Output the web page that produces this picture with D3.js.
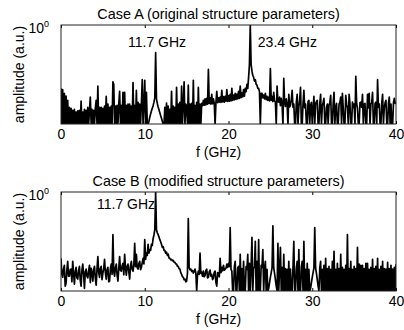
<!DOCTYPE html>
<html>
<head>
<meta charset="utf-8">
<script src="https://cdn.jsdelivr.net/npm/d3@7"></script>
<style>
  body { margin: 0; background: #fff; }
  text { font-family: "Liberation Sans", Arial, Helvetica, sans-serif; fill: #000; }
</style>
</head>
<body>
<svg id="chart" width="404" height="330"></svg>
<script>
// frequency grid of the spectra (GHz)
var fStart = 0, fStep = 0.1;

// amplitude (a.u.), one row per GHz (x.0 ... x.9)
// values below 1e-3 are dips that fall under the axis
var ampA = [
  0.012, 0.0005, 0.011, 0.0005, 0.0085, 0.0005, 0.007, 0.0005, 0.0052, 0.0005,
  0.0032, 0.0005, 0.003, 0.0005, 0.0026, 0.0005, 0.0028, 0.0005, 0.0023, 0.0005,
  0.0025, 0.0005, 0.0026, 0.0005, 0.0049, 0.0005, 0.0023, 0.0005, 0.0028, 0.0005,
  0.0026, 0.0005, 0.0032, 0.0005, 0.0025, 0.0065, 0.0005, 0.0028, 0.0005, 0.0026,
  0.0005, 0.003, 0.0052, 0.0005, 0.014, 0.0005, 0.0032, 0.0005, 0.0032, 0.0005,
  0.003, 0.0005, 0.0035, 0.0005, 0.0069, 0.0005, 0.004, 0.0005, 0.0032, 0.0005,
  0.0035, 0.0005, 0.019, 0.016, 0.0005, 0.0035, 0.0005, 0.0037, 0.0005, 0.004,
  0.0098, 0.0005, 0.0037, 0.0005, 0.0091, 0.0005, 0.0091, 0.0005, 0.0037, 0.0005,
  0.004, 0.0005, 0.004, 0.0005, 0.0035, 0.0005, 0.018, 0.0005, 0.0037, 0.0005,
  0.0105, 0.0005, 0.0045, 0.0005, 0.004, 0.0005, 0.0042, 0.022, 0.0005, 0.004,
  0.021, 0.0005, 0.0091, 0.0005, 0.0009, 0.0012, 0.0016, 0.002, 0.0025, 0.003,
  0.0036, 0.0046, 0.0062, 0.145, 0.0058, 0.0042, 0.0033, 0.0027, 0.0022, 0.0018,
  0.0015, 0.0012, 0.001, 0.0005, 0.0032, 0.0005, 0.0043, 0.0005, 0.0035, 0.0005,
  0.0028, 0.0005, 0.0098, 0.0005, 0.0035, 0.0005, 0.0032, 0.0005, 0.013, 0.0005,
  0.004, 0.0005, 0.0045, 0.0005, 0.014, 0.0005, 0.0037, 0.019, 0.0005, 0.004,
  0.0035, 0.0005, 0.015, 0.0005, 0.004, 0.0005, 0.0042, 0.0005, 0.021, 0.0005,
  0.0037, 0.0005, 0.0045, 0.0005, 0.013, 0.0005, 0.004, 0.0005, 0.0042, 0.0036,
  0.0052, 0.0037, 0.0058, 0.0038, 0.006, 0.004, 0.045, 0.0042, 0.0062, 0.004,
  0.0079, 0.0041, 0.0058, 0.0042, 0.0005, 0.0045, 0.0098, 0.0044, 0.0062, 0.0046,
  0.0065, 0.0045, 0.0105, 0.0047, 0.0068, 0.0046, 0.0069, 0.0049, 0.011, 0.0048,
  0.0072, 0.0049, 0.0079, 0.005, 0.012, 0.0052, 0.0075, 0.0054, 0.0085, 0.0056,
  0.008, 0.0058, 0.0098, 0.006, 0.014, 0.0063, 0.0088, 0.0066, 0.011, 0.007,
  0.012, 0.0095, 0.016, 0.012, 0.026, 0.063, 1, 0.063, 0.04, 0.03,
  0.026, 0.02, 0.022, 0.016, 0.015, 0.012, 0.012, 0.0095, 0.0005, 0.0085,
  0.0085, 0.0062, 0.0075, 0.0058, 0.0085, 0.0055, 0.0069, 0.0052, 0.0065, 0.005,
  0.048, 0.0052, 0.0068, 0.0048, 0.0091, 0.005, 0.0046, 0.0005, 0.014, 0.0048,
  0.0046, 0.0065, 0.0036, 0.006, 0.004, 0.0005, 0.024, 0.0045, 0.0034, 0.0058,
  0.004, 0.0005, 0.0079, 0.0033, 0.0037, 0.0055, 0.0105, 0.0032, 0.004, 0.0005,
  0.0005, 0.0045, 0.0079, 0.0005, 0.0033, 0.0055, 0.013, 0.0005, 0.0005, 0.0042,
  0.0105, 0.0031, 0.004, 0.0005, 0.0005, 0.0048, 0.0052, 0.0005, 0.0037, 0.0045,
  0.0005, 0.003, 0.0069, 0.0005, 0.004, 0.0048, 0.0052, 0.0005, 0.0005, 0.0042,
  0.0079, 0.0005, 0.0035, 0.0045, 0.006, 0.0005, 0.0005, 0.0032, 0.004, 0.0005,
  0.0037, 0.0045, 0.0074, 0.0005, 0.0005, 0.0042, 0.0091, 0.0005, 0.0031, 0.0042,
  0.0005, 0.0005, 0.004, 0.0045, 0.0065, 0.0005, 0.0085, 0.003, 0.0005, 0.0005,
  0.0074, 0.004, 0.0031, 0.0005, 0.0079, 0.0042, 0.0005, 0.0005, 0.0046, 0.0032,
  0.004, 0.0005, 0.028, 0.0042, 0.003, 0.0005, 0.0005, 0.0044, 0.0046, 0.0032,
  0.0079, 0.0005, 0.004, 0.0042, 0.0005, 0.0005, 0.0079, 0.0031, 0.0085, 0.0005,
  0.004, 0.0044, 0.0091, 0.0005, 0.0005, 0.0042, 0.0046, 0.0005, 0.022, 0.0032,
  0.004, 0.0005, 0.0005, 0.0043, 0.0079, 0.0005, 0.0031, 0.0044, 0.0052, 0.0005,
  0.0005, 0.0042, 0.0065, 0.0005, 0.004, 0.0005, 0.0005, 0.0045, 0.006, 0.0042,
  0.0046
];

var ampB = [
  0.0098, 0.0032, 0.0026, 0.0045, 0.006, 0.0014, 0.0017, 0.0042, 0.0079, 0.0028,
  0.0028, 0.0045, 0.0046, 0.0019, 0.0079, 0.0035, 0.0016, 0.0038, 0.0052, 0.0025,
  0.0023, 0.0042, 0.0056, 0.0021, 0.0014, 0.0044, 0.0065, 0.0032, 0.0012, 0.0038,
  0.0046, 0.0028, 0.0025, 0.0041, 0.006, 0.0018, 0.0049, 0.0036, 0.002, 0.0045,
  0.0056, 0.0024, 0.0015, 0.0046, 0.011, 0.0037, 0.0026, 0.0048, 0.0056, 0.0022,
  0.0035, 0.0047, 0.0091, 0.0036, 0.0023, 0.0045, 0.0052, 0.0019, 0.002, 0.0048,
  0.0065, 0.0032, 0.051, 0.0039, 0.0028, 0.0052, 0.0065, 0.003, 0.002, 0.0049,
  0.011, 0.0042, 0.004, 0.0058, 0.0069, 0.0031, 0.013, 0.0052, 0.003, 0.0055,
  0.0065, 0.0038, 0.0023, 0.0058, 0.0079, 0.0045, 0.004, 0.0062, 0.028, 0.0055,
  0.013, 0.0051, 0.0046, 0.0068, 0.0079, 0.0044, 0.0052, 0.0072, 0.0098, 0.0066,
  0.036, 0.009, 0.014, 0.012, 0.026, 0.014, 0.018, 0.017, 0.026, 0.024,
  0.039, 0.05, 0.072, 1, 0.072, 0.058, 0.051, 0.043, 0.036, 0.031,
  0.026, 0.021, 0.022, 0.017, 0.017, 0.014, 0.015, 0.012, 0.013, 0.01,
  0.0098, 0.0088, 0.0091, 0.0082, 0.0085, 0.0075, 0.0074, 0.0066, 0.0065, 0.0056,
  0.0056, 0.0047, 0.0046, 0.0036, 0.0032, 0.0027, 0.0026, 0.0022, 0.0023, 0.0019,
  0.002, 0.0035, 0.155, 0.0052, 0.0044, 0.0046, 0.0039, 0.0042, 0.0035, 0.0039,
  0.0046, 0.0035, 0.0005, 0.003, 0.004, 0.0032, 0.014, 0.0034, 0.0037, 0.0028,
  0.004, 0.0027, 0.003, 0.0042, 0.0046, 0.0025, 0.0026, 0.0038, 0.0043, 0.0028,
  0.0032, 0.0022, 0.0025, 0.0037, 0.004, 0.0018, 0.0014, 0.0036, 0.0035, 0.0027,
  0.0098, 0.0036, 0.0052, 0.0041, 0.006, 0.0043, 0.0046, 0.0049, 0.0065, 0.0052,
  0.0069, 0.0055, 0.083, 0.0045, 0.004, 0.0005, 0.0005, 0.0055, 0.0079, 0.0005,
  0.0005, 0.005, 0.0056, 0.0005, 0.013, 0.0005, 0.0048, 0.0005, 0.0079, 0.0005,
  0.0005, 0.0055, 0.0045, 0.013, 0.0005, 0.0069, 0.0005, 0.0052, 0.042, 0.0005,
  0.0048, 0.0055, 0.032, 0.0005, 0.0079, 0.0005, 0.036, 0.0005, 0.0005, 0.006,
  0.0052, 0.018, 0.0005, 0.0048, 0.0079, 0.0005, 0.0045, 0.0005, 0.0012, 0.0018,
  0.0026, 0.0036, 0.005, 0.095, 0.005, 0.0034, 0.0022, 0.0014, 0.0005, 0.028,
  0.0005, 0.0045, 0.021, 0.0005, 0.0052, 0.0005, 0.013, 0.0005, 0.0048, 0.0005,
  0.0045, 0.0005, 0.0079, 0.0005, 0.0046, 0.0005, 0.0005, 0.0052, 0.032, 0.0005,
  0.0005, 0.0048, 0.0079, 0.0005, 0.018, 0.0005, 0.0005, 0.0055, 0.0079, 0.0005,
  0.032, 0.0005, 0.0045, 0.0005, 0.0069, 0.0005, 0.0045, 0.0005, 0.0012, 0.0018,
  0.0026, 0.0036, 0.005, 0.083, 0.005, 0.0034, 0.0022, 0.0014, 0.0005, 0.005,
  0.0079, 0.0005, 0.0045, 0.0005, 0.006, 0.0005, 0.0098, 0.0005, 0.0048, 0.0005,
  0.0056, 0.0005, 0.0045, 0.0005, 0.0079, 0.0005, 0.016, 0.0005, 0.0045, 0.0005,
  0.0069, 0.0005, 0.0048, 0.0005, 0.013, 0.0005, 0.0052, 0.0005, 0.0045, 0.0005,
  0.006, 0.0005, 0.051, 0.0005, 0.0048, 0.0005, 0.0079, 0.0005, 0.0045, 0.0005,
  0.0056, 0.0005, 0.0048, 0.0005, 0.021, 0.0005, 0.0065, 0.0005, 0.006, 0.0005,
  0.006, 0.0005, 0.0048, 0.0005, 0.0069, 0.0005, 0.0069, 0.0005, 0.0045, 0.0005,
  0.0052, 0.0005, 0.0091, 0.0005, 0.0048, 0.0005, 0.0056, 0.0005, 0.0098, 0.0005,
  0.0045, 0.0005, 0.0056, 0.0005, 0.0079, 0.0005, 0.0048, 0.0005, 0.0046, 0.0005,
  0.0074, 0.0005, 0.0048, 0.0005, 0.006, 0.0005, 0.0046, 0.0005, 0.0052, 0.0005,
  0.0065
];

var titles = ["Case A (original structure parameters)", "Case B (modified structure parameters)"];
var xTicks = [0, 10, 20, 30, 40];
var peakLabelsA = [{ text: "11.7 GHz", f: 8.0, a: 0.21 }, { text: "23.4 GHz", f: 23.5, a: 0.21 }];
var peakLabelsB = [{ text: "11.7 GHz", f: 4.3, a: 0.3 }];

var svg = d3.select('#chart');
var margin = { left: 61, right: 8 };
var plotW = 404 - margin.left - margin.right;
var plotH = 99;
var panelTops = [25, 192];
var fontSize = 14;
var textCenter = plotW / 2 - 10;   // titles and x label sit a bit left of the box centre

var x = d3.scaleLinear().domain([0, 40]).range([0, plotW]);
var y = d3.scaleLog().domain([1e-3, 1]).range([plotH, 0]).clamp(true);

var panels = [
  { title: titles[0], amp: ampA, labels: peakLabelsA },
  { title: titles[1], amp: ampB, labels: peakLabelsB }
];

panels.forEach((p, k) => {
  let data = p.amp.map((a, i) => ({ f: fStart + i * fStep, a: a }));
  let g = svg.append('g').attr('transform', `translate(${margin.left},${panelTops[k]})`);

  g.append('clipPath').attr('id', 'clip' + k)
    .append('rect').attr('width', plotW).attr('height', plotH);

  let line = d3.line().x(d => x(d.f)).y(d => y(d.a));

  g.append('path')
    .datum(data)
    .attr('clip-path', `url(#clip${k})`)
    .attr('fill', 'none')
    .attr('stroke', '#000')
    .attr('stroke-width', 1.7)
    .attr('stroke-linejoin', 'round')
    .attr('d', line);

  // bottom axis with inward ticks, plus mirrored ticks on top
  g.append('g')
    .attr('transform', `translate(0,${plotH})`)
    .call(d3.axisBottom(x).tickValues(xTicks).tickSizeInner(-3).tickSizeOuter(0).tickPadding(5))
    .call(a => a.select('.domain').remove())
    .call(a => a.selectAll('text').attr('font-size', fontSize).attr('font-family', null));
  g.append('g')
    .call(d3.axisTop(x).tickValues(xTicks).tickSizeInner(-3).tickSizeOuter(0))
    .call(a => a.select('.domain').remove())
    .call(a => a.selectAll('text').remove());

  g.append('rect')
    .attr('width', plotW).attr('height', plotH)
    .attr('fill', 'none').attr('stroke', '#222').attr('stroke-width', 1);

  // 10^0 label at the top of the log axis
  let yl = g.append('text').attr('x', -12).attr('y', y(1) + 8).attr('text-anchor', 'end').attr('font-size', fontSize);
  yl.append('tspan').text('10');
  yl.append('tspan').attr('dy', -6).attr('font-size', 9).text('0');

  g.append('text')
    .attr('transform', `translate(-37,${plotH / 2}) rotate(-90)`)
    .attr('text-anchor', 'middle')
    .attr('font-size', fontSize)
    .text('amplitude (a.u.)');

  g.append('text')
    .attr('x', textCenter).attr('y', -6)
    .attr('text-anchor', 'middle')
    .attr('font-size', 14.4)
    .text(p.title);

  g.append('text')
    .attr('x', textCenter).attr('y', plotH + 33)
    .attr('text-anchor', 'middle')
    .attr('font-size', fontSize)
    .text('f (GHz)');

  g.selectAll('.peak-label')
    .data(p.labels)
    .join('text')
    .classed('peak-label', true)
    .attr('x', d => x(d.f))
    .attr('y', d => y(d.a))
    .attr('font-size', fontSize)
    .text(d => d.text);
});
</script>
</body>
</html>
